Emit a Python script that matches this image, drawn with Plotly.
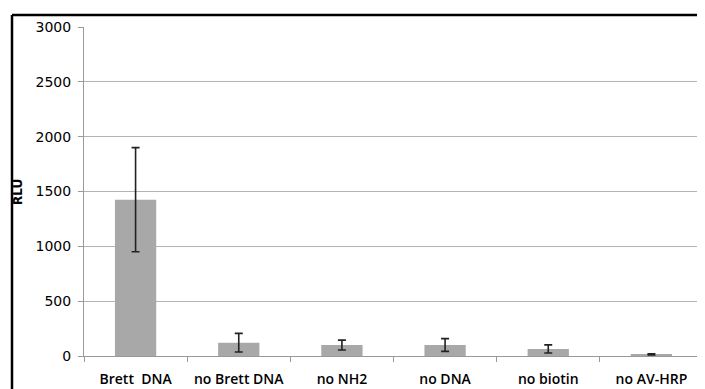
import plotly.graph_objects as go

categories = ["Brett  DNA", "no Brett DNA", "no NH2", "no DNA", "no biotin", "no AV-HRP"]
rlu_values = [1425, 121, 100, 100, 64, 15]
rlu_errors = [475, 85, 45, 58, 37, 5]
y_ticks = [0, 500, 1000, 1500, 2000, 2500, 3000]

# page body has an 8px default margin, so the figure starts at (8, 8)
OFF = 8
W, H = 705 - OFF, 389 - OFF
ML, MR, MT, MB = 84 - OFF, 2, 27 - OFF, 33
PW, PH = W - ML - MR, H - MT - MB

def px_x(x):
    return (x - OFF - ML) / PW

def px_y(y):
    return (H - MB - (y - OFF)) / PH

fig = go.Figure()
fig.add_trace(go.Bar(
    x=categories, y=rlu_values,
    marker=dict(color="#a8a8a8", line=dict(width=0)),
    error_y=dict(type="data", array=rlu_errors, visible=True,
                 color="#222222", thickness=1.6, width=4),
    width=0.4,
))

x_font = "Open Sans, DejaVu Sans, sans-serif"
y_font = "DejaVu Sans, sans-serif"
fig.update_layout(
    template="none",
    width=W, height=H,
    margin=dict(l=ML, r=MR, t=MT, b=MB),
    paper_bgcolor="white", plot_bgcolor="white",
    showlegend=False,
    font=dict(family=x_font, size=12, color="black"),
    xaxis=dict(
        type="category",
        tickson="boundaries",
        ticks="outside", ticklen=5, tickcolor="#999999",
        showline=True, linecolor="#999999", linewidth=1,
        showgrid=False, zeroline=False,
        tickfont=dict(size=14, color="black", family=x_font, weight=600),
        ticklabelstandoff=10,
        automargin=False,
    ),
    yaxis=dict(
        range=[0, 3000],
        tickvals=y_ticks,
        ticks="outside", ticklen=5, tickcolor="#999999",
        showline=True, linecolor="#999999", linewidth=1,
        showgrid=True, gridcolor="#b4b4b4", gridwidth=1,
        zeroline=False,
        tickfont=dict(size=14, color="black", family=y_font),
        ticklabelstandoff=4,
        automargin=False,
    ),
    shapes=[
        dict(type="line", xref="paper", yref="paper",
             x0=px_x(12), x1=px_x(12), y0=px_y(15), y1=px_y(389),
             line=dict(color="black", width=2.5)),
        dict(type="line", xref="paper", yref="paper",
             x0=px_x(12), x1=px_x(705), y0=px_y(15), y1=px_y(15),
             line=dict(color="black", width=2.5)),
    ],
    annotations=[
        dict(text="RLU", xref="paper", yref="paper",
             x=px_x(18), y=px_y(192), xanchor="center", yanchor="middle",
             textangle=-90, showarrow=False,
             font=dict(size=12, color="black", family=y_font, weight="bold")),
    ],
)

fig.write_html("out.html")
